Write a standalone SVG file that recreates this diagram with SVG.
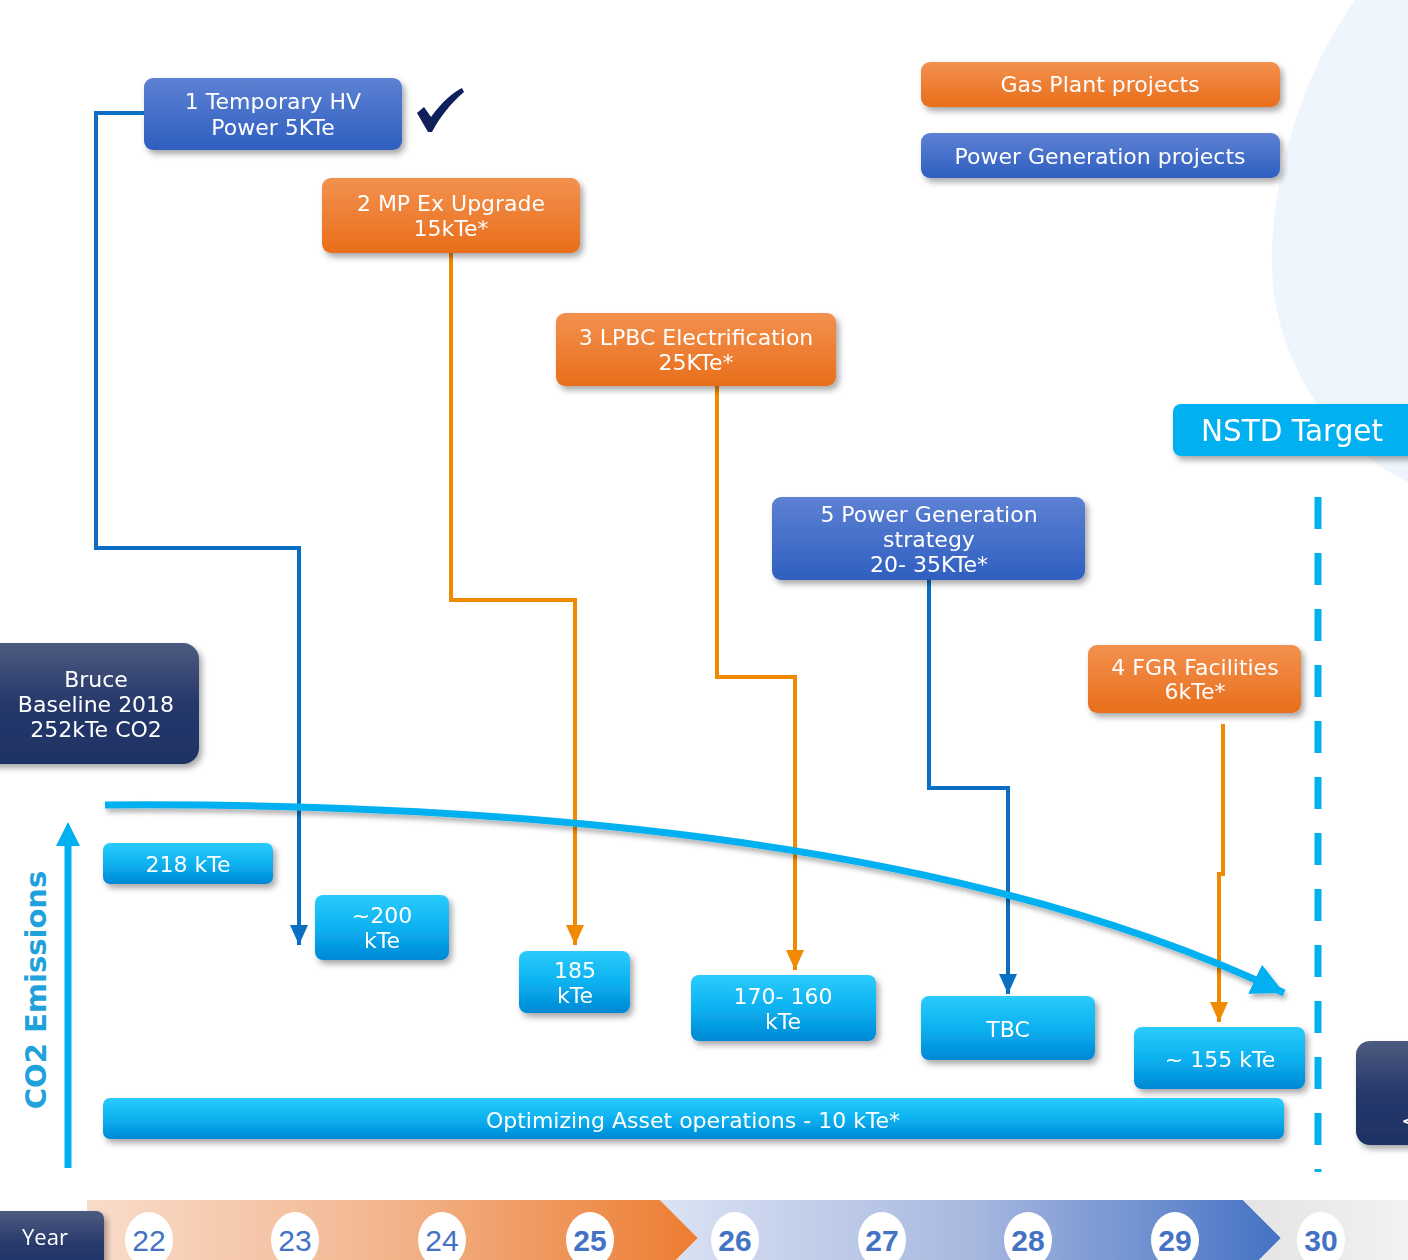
<svg xmlns="http://www.w3.org/2000/svg" width="1408" height="1260" viewBox="0 0 1408 1260">
<style>
.t{font-family:"DejaVu Sans","Verdana",sans-serif;font-size:22px;fill:#fff;text-anchor:middle}
.yr{font-family:"Liberation Sans","Arial",sans-serif;font-size:30px;fill:#4472c4;text-anchor:middle}
.b{font-weight:bold}
.cb{fill:none;stroke:#0a6fc2;stroke-width:4}
.co{fill:none;stroke:#f08a00;stroke-width:4}
</style>
<defs>
<linearGradient id="gBlue" x1="0" y1="0" x2="0" y2="1"><stop offset="0" stop-color="#5d81d3"/><stop offset="1" stop-color="#2f5fc0"/></linearGradient>
<linearGradient id="gOr" x1="0" y1="0" x2="0" y2="1"><stop offset="0" stop-color="#f3914f"/><stop offset="1" stop-color="#e86e1a"/></linearGradient>
<linearGradient id="gCy" x1="0" y1="0" x2="0" y2="1"><stop offset="0" stop-color="#2ccbfc"/><stop offset="0.5" stop-color="#0bb2f0"/><stop offset="1" stop-color="#0088d4"/></linearGradient>
<linearGradient id="gNavy" x1="0" y1="0" x2="0" y2="1"><stop offset="0" stop-color="#4d5b80"/><stop offset="0.5" stop-color="#26386a"/><stop offset="1" stop-color="#1e3264"/></linearGradient>
<linearGradient id="gTOr" x1="0" y1="0" x2="1" y2="0"><stop offset="0" stop-color="#f9dccb"/><stop offset="0.45" stop-color="#f3b994"/><stop offset="1" stop-color="#ed7d31"/></linearGradient>
<linearGradient id="gTBl" x1="0" y1="0" x2="1" y2="0"><stop offset="0" stop-color="#dbe3f4"/><stop offset="0.5" stop-color="#a8b8df"/><stop offset="1" stop-color="#4472c4"/></linearGradient>
<linearGradient id="gTGr" x1="0" y1="0" x2="1" y2="0"><stop offset="0" stop-color="#e4e4e4"/><stop offset="1" stop-color="#f2f2f2"/></linearGradient>
<filter id="sh" x="-10%" y="-20%" width="125%" height="150%"><feDropShadow dx="3" dy="4" stdDeviation="3" flood-color="#000" flood-opacity="0.35"/></filter>
<filter id="sh2" x="-5%" y="-20%" width="115%" height="150%"><feDropShadow dx="2" dy="4" stdDeviation="2.5" flood-color="#000" flood-opacity="0.3"/></filter>
<marker id="aB" markerUnits="userSpaceOnUse" markerWidth="20" markerHeight="18" viewBox="0 0 20 18" refX="20" refY="9" orient="auto"><path d="M0,0 L20,9 L0,18 Z" fill="#0a6fc2"/></marker>
<marker id="aO" markerUnits="userSpaceOnUse" markerWidth="20" markerHeight="18" viewBox="0 0 20 18" refX="20" refY="9" orient="auto"><path d="M0,0 L20,9 L0,18 Z" fill="#f08a00"/></marker>
<marker id="aC" markerUnits="userSpaceOnUse" markerWidth="32" markerHeight="32" viewBox="0 0 32 32" refX="32" refY="16" orient="auto"><path d="M0,0 L32,16 L0,32 Z" fill="#00b0f0"/></marker>
</defs>

<rect width="1408" height="1260" fill="#fff"/>
<path d="M1355,0 C1290,90 1262,220 1275,300 C1290,390 1350,455 1408,482 L1408,0 Z" fill="#eef5fc"/>

<g id="timeline">
<path d="M87,1200 L660,1200 L698,1238 L676,1260 L87,1260 Z" fill="url(#gTOr)"/>
<path d="M660,1200 L1243,1200 L1281,1238 L1259,1260 L676,1260 L698,1238 Z" fill="url(#gTBl)"/>
<path d="M1243,1200 L1408,1200 L1408,1260 L1259,1260 L1281,1238 Z" fill="url(#gTGr)"/>
<g fill="#fff">
<ellipse cx="149" cy="1240" rx="24" ry="28"/><ellipse cx="295" cy="1240" rx="24" ry="28"/><ellipse cx="442" cy="1240" rx="24" ry="28"/><ellipse cx="590" cy="1240" rx="24" ry="28"/><ellipse cx="735" cy="1240" rx="24" ry="28"/><ellipse cx="882" cy="1240" rx="24" ry="28"/><ellipse cx="1028" cy="1240" rx="24" ry="28"/><ellipse cx="1175" cy="1240" rx="24" ry="28"/><ellipse cx="1321" cy="1240" rx="24" ry="28"/>
</g>
<text class="yr" x="149" y="1251">22</text><text class="yr" x="295" y="1251">23</text><text class="yr" x="442" y="1251">24</text>
<text class="yr b" x="590" y="1251">25</text><text class="yr b" x="735" y="1251">26</text><text class="yr b" x="882" y="1251">27</text><text class="yr b" x="1028" y="1251">28</text><text class="yr b" x="1175" y="1251">29</text><text class="yr b" x="1321" y="1251">30</text>
</g>
<g id="year" filter="url(#sh)"><rect x="-10" y="1211" width="114" height="70" rx="8" fill="url(#gNavy)"/><text class="t" x="45" y="1245" style="font-family:'Open Sans','DejaVu Sans',sans-serif;font-size:22px">Year</text></g>

<g id="axis">
<line x1="68" y1="1168" x2="68" y2="842" stroke="#00b0f0" stroke-width="7"/>
<path d="M56,846 L68,822 L80,846 Z" fill="#00b0f0"/>
<text x="0" y="0" transform="translate(46,990) rotate(-90)" style="font-family:'DejaVu Sans',sans-serif;font-size:29px;font-weight:bold;fill:#1fa2dc;text-anchor:middle">CO2 Emissions</text>
</g>

<g id="target-line"><line x1="1318" y1="497" x2="1318" y2="1172" stroke="#00b0f0" stroke-width="7" stroke-dasharray="32 24"/></g>

<g id="connectors">
<path class="cb" d="M144,113 L96,113 L96,548 L299,548 L299,945" marker-end="url(#aB)"/>
<path class="co" d="M451,253 L451,600 L575,600 L575,945" marker-end="url(#aO)"/>
<path class="co" d="M717,386 L717,677 L795,677 L795,970" marker-end="url(#aO)"/>
<path class="cb" d="M929,580 L929,788 L1008,788 L1008,994" marker-end="url(#aB)"/>
<path class="co" d="M1223,724 L1223,874 L1219,874 L1219,1022" marker-end="url(#aO)"/>
<path d="M105,805 Q880,800 1284,993" fill="none" stroke="#00b0f0" stroke-width="7" marker-end="url(#aC)" filter="url(#sh2)"/>
</g>

<g id="n1" filter="url(#sh)"><rect x="144" y="78" width="258" height="72" rx="9" fill="url(#gBlue)"/><text class="t" x="273" y="109">1 Temporary HV</text><text class="t" x="273" y="135">Power 5KTe</text></g>
<g id="check"><path d="M417,113 L424,107 L431,117 C443,101 452,93 462,88 L464,92 C450,104 440,117 432,132 L428,132 Z" fill="#0e1f5b"/></g>
<g id="n2" filter="url(#sh)"><rect x="322" y="178" width="258" height="75" rx="9" fill="url(#gOr)"/><text class="t" x="451" y="211">2 MP Ex Upgrade</text><text class="t" x="451" y="236">15kTe*</text></g>
<g id="n3" filter="url(#sh)"><rect x="556" y="313" width="280" height="73" rx="9" fill="url(#gOr)"/><text class="t" x="696" y="345">3 LPBC Electrification</text><text class="t" x="696" y="370">25KTe*</text></g>
<g id="leg1" filter="url(#sh)"><rect x="921" y="62" width="359" height="45" rx="9" fill="url(#gOr)"/><text class="t" x="1100" y="92">Gas Plant projects</text></g>
<g id="leg2" filter="url(#sh)"><rect x="921" y="133" width="359" height="45" rx="9" fill="url(#gBlue)"/><text class="t" x="1100" y="164">Power Generation projects</text></g>
<g id="nstd" filter="url(#sh)"><rect x="1173" y="404" width="250" height="52" rx="8" fill="#00b0f0"/><text class="t" x="1292" y="441" style="font-size:29.5px">NSTD Target</text></g>
<g id="n5" filter="url(#sh)"><rect x="772" y="497" width="313" height="83" rx="9" fill="url(#gBlue)"/><text class="t" x="929" y="522">5 Power Generation</text><text class="t" x="929" y="547">strategy</text><text class="t" x="929" y="572">20- 35KTe*</text></g>
<g id="n4" filter="url(#sh)"><rect x="1088" y="645" width="213" height="68" rx="9" fill="url(#gOr)"/><text class="t" x="1195" y="675">4 FGR Facilities</text><text class="t" x="1195" y="699">6kTe*</text></g>
<g id="baseline" filter="url(#sh)"><rect x="-20" y="643" width="219" height="121" rx="16" fill="url(#gNavy)"/><text class="t" x="96" y="687">Bruce</text><text class="t" x="96" y="712">Baseline 2018</text><text class="t" x="96" y="737">252kTe CO2</text></g>
<g id="v218" filter="url(#sh)"><rect x="103" y="843" width="170" height="41" rx="7" fill="url(#gCy)"/><text class="t" x="188" y="872">218 kTe</text></g>
<g id="v200" filter="url(#sh)"><rect x="315" y="895" width="134" height="65" rx="8" fill="url(#gCy)"/><text class="t" x="382" y="923">~200</text><text class="t" x="382" y="948">kTe</text></g>
<g id="v185" filter="url(#sh)"><rect x="519" y="951" width="111" height="62" rx="8" fill="url(#gCy)"/><text class="t" x="575" y="978">185</text><text class="t" x="575" y="1003">kTe</text></g>
<g id="v170" filter="url(#sh)"><rect x="691" y="975" width="185" height="66" rx="8" fill="url(#gCy)"/><text class="t" x="783" y="1004">170- 160</text><text class="t" x="783" y="1029">kTe</text></g>
<g id="vtbc" filter="url(#sh)"><rect x="921" y="996" width="174" height="64" rx="8" fill="url(#gCy)"/><text class="t" x="1008" y="1037">TBC</text></g>
<g id="v155" filter="url(#sh)"><rect x="1134" y="1027" width="171" height="62" rx="8" fill="url(#gCy)"/><text class="t" x="1220" y="1067">~ 155 kTe</text></g>
<g id="opt" filter="url(#sh)"><rect x="103" y="1098" width="1181" height="41" rx="7" fill="url(#gCy)"/><text class="t" x="693" y="1128">Optimizing Asset operations - 10 kTe*</text></g>
<g id="partial" filter="url(#sh)"><rect x="1356" y="1041" width="90" height="104" rx="14" fill="url(#gNavy)"/><text class="t" x="1401" y="1128" style="text-anchor:start">&lt;</text></g>
</svg>
